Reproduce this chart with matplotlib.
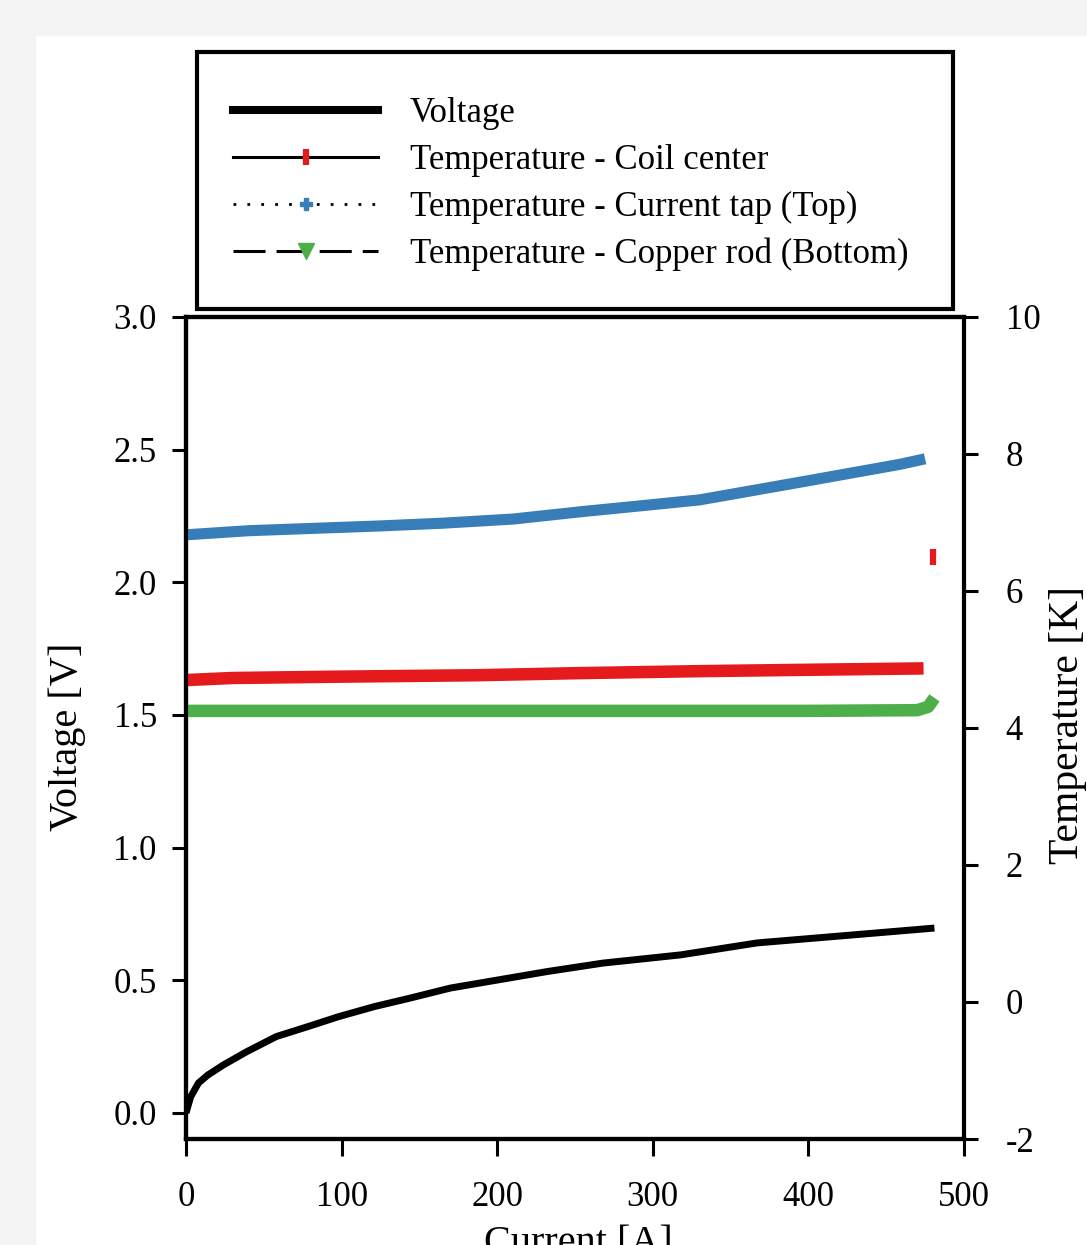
import numpy as np
import matplotlib
matplotlib.use('Agg')
import matplotlib.pyplot as plt
from matplotlib.lines import Line2D
from matplotlib.patches import Rectangle

plt.rcParams['font.family'] = ['Liberation Serif', 'DejaVu Serif']
plt.rcParams['axes.unicode_minus'] = False

# Voltage vs current (left axis)
current_v = [0, 3, 8, 14, 24, 39, 58, 78, 98, 121, 144, 170, 200, 232, 268, 318, 367, 416, 481]
voltage = [0.0, 0.061, 0.113, 0.143, 0.181, 0.231, 0.288, 0.325, 0.363, 0.401, 0.433,
           0.471, 0.501, 0.533, 0.565, 0.596, 0.641, 0.665, 0.697]

# Temperatures (right axis)
current_coil = [0, 30, 100, 186, 250, 330, 400, 474, 480]
temp_coil = [4.70, 4.73, 4.75, 4.77, 4.80, 4.83, 4.85, 4.87, 6.49]

current_top = [0, 40, 125, 165, 210, 255, 295, 330, 395, 459, 475]
temp_top = [6.82, 6.88, 6.95, 6.99, 7.05, 7.16, 7.25, 7.33, 7.59, 7.85, 7.93]

current_rod = [0, 100, 200, 300, 400, 470, 477, 481]
temp_rod = [4.25, 4.25, 4.25, 4.25, 4.25, 4.26, 4.31, 4.44]

labels = ['Voltage', 'Temperature - Coil center', 'Temperature - Current tap (Top)',
          'Temperature - Copper rod (Bottom)']
c_red, c_blue, c_green = '#e41a1c', '#377eb8', '#4daf4a'

fig = plt.figure(figsize=(10.87, 12.45), dpi=100)
# light grey scan border
fig.patches.append(Rectangle((0, 1 - 35/1245), 1, 35/1245, transform=fig.transFigure,
                             color='#f4f4f4', zorder=0))
fig.patches.append(Rectangle((0, 0), 35/1087, 1, transform=fig.transFigure,
                             color='#f4f4f4', zorder=0))

ax = fig.add_axes([186/1087, 1 - 1139/1245, 778/1087, 822/1245])
ax2 = ax.twinx()

ax.plot(current_v, voltage, color='k', lw=5, solid_capstyle='butt', zorder=3)

ax2.plot(current_top, temp_top, color=c_blue, lw=8, solid_capstyle='butt')
ax2.plot(current_coil[:-1], temp_coil[:-1], color=c_red, lw=9, solid_capstyle='butt')
ax2.plot(current_coil[-1:], temp_coil[-1:], ls='none', marker='|', ms=11, mew=4.5, color=c_red)
ax2.plot(current_rod, temp_rod, color=c_green, lw=9, solid_capstyle='butt')

ax.set_xlim(0, 500)
ax.set_ylim(-0.098, 3.0)
ax2.set_ylim(-2, 10)
ax.set_xticks(np.arange(0, 501, 100))
ax.set_yticks(np.arange(0, 3.01, 0.5))
ax.yaxis.set_major_formatter(matplotlib.ticker.FormatStrFormatter('%.1f'))
ax2.set_yticks(np.arange(-2, 11, 2))

for s in ax.spines.values():
    s.set_linewidth(3)
for s in ax2.spines.values():
    s.set_linewidth(3)
ax2.spines['right'].set_linewidth(2.2)

ax.tick_params(axis='y', direction='out', length=10, width=2.2, pad=11, labelsize=25)
ax.tick_params(axis='x', direction='out', length=12, width=2.2, pad=18, labelsize=25)
ax2.tick_params(axis='y', direction='out', length=10, width=2.2, pad=20, labelsize=25)

ax.set_xlabel('Current [A]', fontsize=29)
ax.set_ylabel('Voltage [V]', fontsize=29)
ax2.set_ylabel('Temperature [K]', fontsize=30)
ax.xaxis.set_label_coords(0.504, -0.105)
ax.yaxis.set_label_coords(-0.128, 0.489)
ax2.yaxis.set_label_coords(1.108, 0.504)

# legend above the axes, in its own box
handles = [
    Line2D([], [], color='k', lw=5.8),
    Line2D([], [], color='k', lw=2.2, marker='|', ms=11, mew=4.5, mec=c_red),
    Line2D([], [], color='k', lw=2, ls=(0, (1, 4)), marker='P', ms=9, mfc=c_blue, mec=c_blue),
    Line2D([], [], color='k', lw=2.2, ls=(0, (10.5, 3.6)), marker='v', ms=11, mfc=c_green, mec=c_green),
]
fig.patches.append(Rectangle((197/1087, 1 - 309/1245), 756/1087, 257/1245,
                             transform=fig.transFigure, fill=False, ec='k', lw=3))
fig.legend(handles, labels, loc='center left', bbox_to_anchor=(233/1087, 1 - 184/1245),
           frameon=False, fontsize=25, handlelength=4.18, handletextpad=0.92,
           borderpad=0, borderaxespad=0, labelspacing=0.4)

fig.savefig('out.png', dpi=100)
